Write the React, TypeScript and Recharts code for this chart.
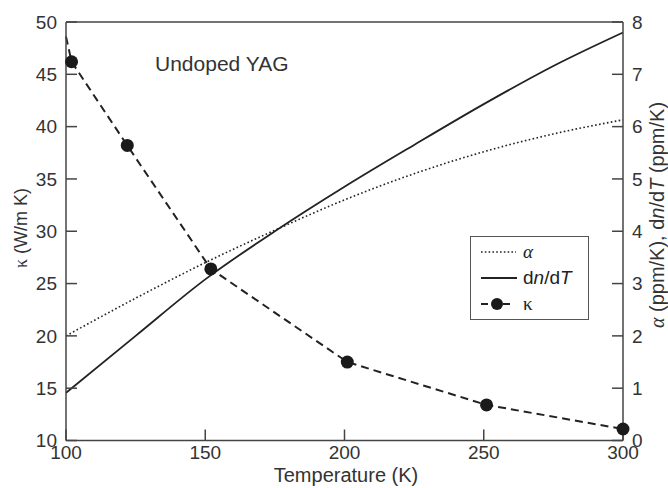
import React from "react";
import { ComposedChart, Line, XAxis, YAxis, ReferenceLine, Legend } from "recharts";

// dn/dT and alpha curves (right axis, ppm/K)
const temperature = [100, 125, 150, 175, 200, 225, 250, 275, 300];
const alphaValues = [2.0, 2.72, 3.4, 4.02, 4.6, 5.1, 5.52, 5.86, 6.13];
const dndtValues = [0.91, 2.0, 3.08, 4.0, 4.85, 5.65, 6.43, 7.16, 7.8];

// thermal conductivity (left axis, W/m K); first point is the line start only
const kappaTemperature = [100, 102, 122, 152, 201, 251, 300];
const kappaValues = [48.6, 46.2, 38.2, 26.4, 17.5, 13.4, 11.1];
const kappaMarked = [false, true, true, true, true, true, true];

const xTicks = [100, 150, 200, 250, 300];
const leftTicks = [10, 15, 20, 25, 30, 35, 40, 45, 50];
const rightTicks = [0, 1, 2, 3, 4, 5, 6, 7, 8];

const FONT = "'Liberation Sans', Arial, sans-serif";
const SERIF = "'Liberation Serif', 'Times New Roman', serif";
const INK = "#222";
const AXIS = "#444";

const alphaData = temperature.map((t, i) => ({ t, v: alphaValues[i] }));
const dndtData = temperature.map((t, i) => ({ t, v: dndtValues[i] }));
const kappaData = kappaTemperature.map((t, i) => ({ t, v: kappaValues[i], mark: kappaMarked[i] }));

const tickStyle = { fill: "#333", fontSize: 19, fontFamily: FONT };

function KappaDot(props: any) {
  const { cx, cy, payload, index } = props;
  if (!payload || !payload.mark) return <g key={`k-${index}`} />;
  return <circle key={`k-${index}`} cx={cx} cy={cy} r={6.5} fill="#1a1a1a" stroke="none" />;
}

function LegendBox() {
  const row: React.CSSProperties = {
    display: "flex",
    alignItems: "center",
    height: 26,
    paddingLeft: 9,
  };
  return (
    <div
      style={{
        boxSizing: "border-box",
        width: 119,
        height: 84,
        paddingTop: 2,
        border: "1.5px solid #555",
        background: "#fff",
        fontFamily: FONT,
        fontSize: 19,
        color: INK,
      }}
    >
      <div style={row}>
        <svg width={38} height={10}>
          <line x1={1} y1={5} x2={36} y2={5} stroke={INK} strokeWidth={1.6} strokeDasharray="1.6 2.2" />
        </svg>
        <span style={{ fontFamily: SERIF, fontStyle: "italic", marginLeft: 5 }}>α</span>
      </div>
      <div style={row}>
        <svg width={38} height={10}>
          <line x1={1} y1={5} x2={37} y2={5} stroke={INK} strokeWidth={1.8} />
        </svg>
        <span style={{ marginLeft: 5 }}>
          d<i>n</i>/d<i>T</i>
        </span>
      </div>
      <div style={row}>
        <svg width={38} height={14}>
          <line x1={1} y1={7} x2={33} y2={7} stroke={INK} strokeWidth={2} strokeDasharray="7 4" />
          <circle cx={17} cy={7} r={6} fill="#1a1a1a" />
        </svg>
        <span style={{ fontFamily: SERIF, marginLeft: 5 }}>κ</span>
      </div>
    </div>
  );
}

export default function App() {
  return (
    <div style={{ position: "absolute", left: 0, top: 0, width: 668, height: 488, background: "#fff", overflow: "hidden" }}>
      <ComposedChart width={668} height={488} margin={{ top: 22, right: 0, bottom: 0, left: 0 }}>
        <XAxis
          dataKey="t"
          type="number"
          domain={[100, 300]}
          ticks={xTicks}
          interval={0}
          height={47.5}
          tickSize={-11}
          tickMargin={16}
          axisLine={{ stroke: AXIS, strokeWidth: 1.5 }}
          tickLine={{ stroke: AXIS, strokeWidth: 1.5 }}
          tick={tickStyle}
        />
        <YAxis
          yAxisId="left"
          orientation="left"
          type="number"
          domain={[10, 50]}
          ticks={leftTicks}
          interval={0}
          width={66}
          tickSize={-11}
          tickMargin={20}
          axisLine={{ stroke: AXIS, strokeWidth: 1.5 }}
          tickLine={{ stroke: AXIS, strokeWidth: 1.5 }}
          tick={tickStyle}
        />
        <YAxis
          yAxisId="right"
          orientation="right"
          type="number"
          domain={[0, 8]}
          ticks={rightTicks}
          interval={0}
          width={45}
          tickSize={-11}
          tickMargin={20}
          axisLine={{ stroke: AXIS, strokeWidth: 1.5 }}
          tickLine={{ stroke: AXIS, strokeWidth: 1.5 }}
          tick={tickStyle}
        />
        <ReferenceLine yAxisId="left" y={50} stroke={AXIS} strokeWidth={1.5} />
        <Line
          yAxisId="right"
          data={alphaData}
          dataKey="v"
          type="monotone"
          stroke={INK}
          strokeWidth={1.6}
          strokeDasharray="1.6 2.4"
          dot={false}
          activeDot={false}
          isAnimationActive={false}
        />
        <Line
          yAxisId="right"
          data={dndtData}
          dataKey="v"
          type="monotone"
          stroke={INK}
          strokeWidth={1.8}
          dot={false}
          activeDot={false}
          isAnimationActive={false}
        />
        <Line
          yAxisId="left"
          data={kappaData}
          dataKey="v"
          type="linear"
          stroke={INK}
          strokeWidth={2}
          strokeDasharray="8 5"
          dot={KappaDot}
          activeDot={false}
          isAnimationActive={false}
        />
        <Legend
          layout="vertical"
          align="center"
          verticalAlign="middle"
          wrapperStyle={{ left: 470, top: 236, width: 119, height: 84 }}
          content={() => <LegendBox />}
        />
      </ComposedChart>

      <div
        style={{
          position: "absolute",
          left: 155,
          top: 53,
          fontFamily: FONT,
          fontSize: 21,
          lineHeight: 1,
          color: "#333",
          whiteSpace: "nowrap",
        }}
      >
        Undoped YAG
      </div>
      <div
        style={{
          position: "absolute",
          left: 21,
          top: 228,
          transform: "translate(-50%, -50%) rotate(-90deg)",
          fontFamily: FONT,
          fontSize: 18,
          lineHeight: 1,
          color: "#333",
          whiteSpace: "nowrap",
        }}
      >
        <span style={{ fontFamily: SERIF }}>κ</span> (W/m K)
      </div>
      <div
        style={{
          position: "absolute",
          left: 657,
          top: 215,
          transform: "translate(-50%, -50%) rotate(-90deg)",
          fontFamily: FONT,
          fontSize: 20,
          lineHeight: 1,
          color: "#333",
          whiteSpace: "nowrap",
        }}
      >
        <span style={{ fontFamily: SERIF, fontStyle: "italic" }}>α</span> (ppm/K), d<i>n</i>/d<i>T</i> (ppm/K)
      </div>
      <div
        style={{
          position: "absolute",
          left: 346,
          top: 465,
          transform: "translateX(-50%)",
          fontFamily: FONT,
          fontSize: 20,
          lineHeight: 1,
          color: "#333",
          whiteSpace: "nowrap",
        }}
      >
        Temperature (K)
      </div>
    </div>
  );
}
